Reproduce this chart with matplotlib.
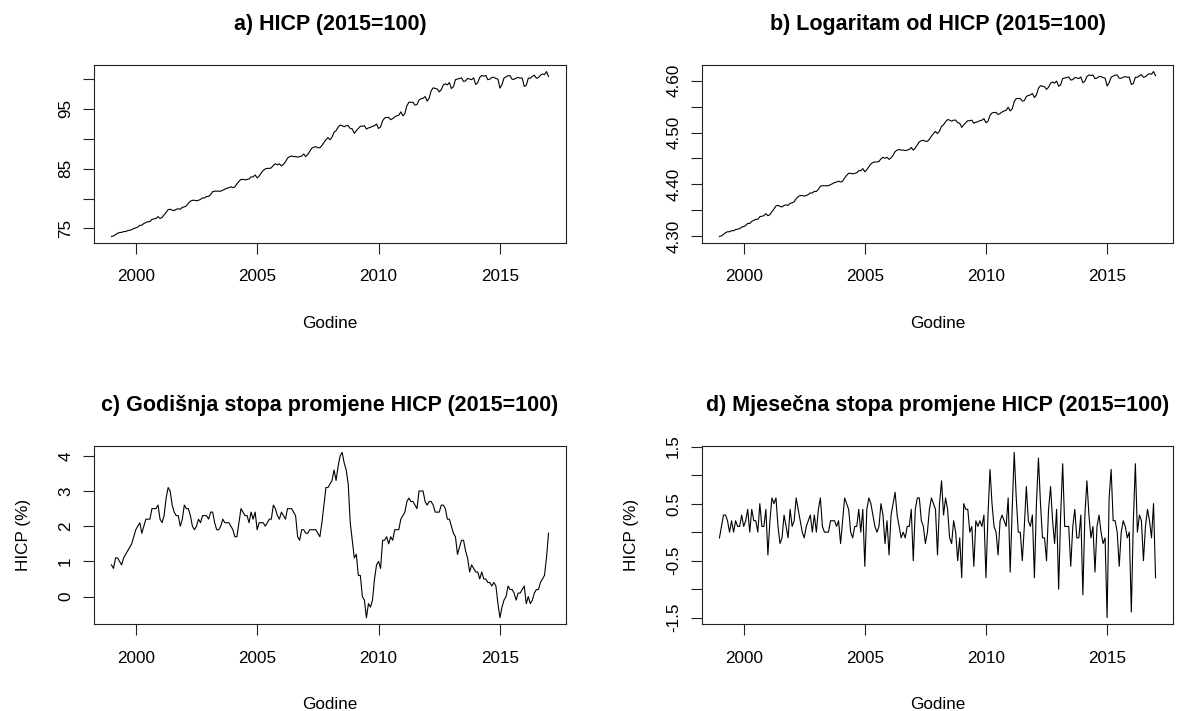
import numpy as np
import matplotlib
matplotlib.use('Agg')
import matplotlib.pyplot as plt

plt.rcParams['font.family'] = ['Liberation Sans', 'DejaVu Sans']

# Godišnja stopa promjene HICP (%), siječanj 1999 - siječanj 2017
godisnja = [
    0.9, 0.8, 1.1, 1.1, 1.0, 0.9, 1.1, 1.2, 1.3, 1.4, 1.5, 1.7,      # 1999
    1.9, 2.0, 2.1, 1.8, 2.0, 2.2, 2.2, 2.2, 2.5, 2.5, 2.5, 2.6,      # 2000
    2.2, 2.1, 2.3, 2.8, 3.1, 3.0, 2.6, 2.4, 2.3, 2.3, 2.0, 2.2,      # 2001
    2.6, 2.5, 2.5, 2.3, 2.0, 1.9, 2.0, 2.2, 2.1, 2.3, 2.3, 2.3,      # 2002
    2.2, 2.4, 2.4, 2.1, 1.9, 1.9, 2.0, 2.2, 2.1, 2.1, 2.1, 2.0,      # 2003
    1.9, 1.7, 1.7, 2.1, 2.5, 2.4, 2.3, 2.3, 2.1, 2.4, 2.2, 2.4,      # 2004
    1.9, 2.1, 2.1, 2.1, 2.0, 2.1, 2.2, 2.2, 2.6, 2.5, 2.3, 2.2,      # 2005
    2.4, 2.3, 2.2, 2.5, 2.5, 2.5, 2.4, 2.3, 1.7, 1.6, 1.9, 1.9,      # 2006
    1.8, 1.8, 1.9, 1.9, 1.9, 1.9, 1.8, 1.7, 2.1, 2.6, 3.1, 3.1,      # 2007
    3.2, 3.3, 3.6, 3.3, 3.7, 4.0, 4.1, 3.8, 3.6, 3.2, 2.1, 1.6,      # 2008
    1.1, 1.2, 0.6, 0.6, 0.0, -0.1, -0.6, -0.2, -0.3, -0.1, 0.5, 0.9, # 2009
    1.0, 0.8, 1.6, 1.6, 1.7, 1.5, 1.7, 1.6, 1.9, 1.9, 1.9, 2.2,      # 2010
    2.3, 2.4, 2.7, 2.8, 2.7, 2.7, 2.6, 2.5, 3.0, 3.0, 3.0, 2.7,      # 2011
    2.6, 2.7, 2.7, 2.6, 2.4, 2.4, 2.4, 2.6, 2.6, 2.5, 2.2, 2.2,      # 2012
    2.0, 1.8, 1.7, 1.2, 1.4, 1.6, 1.6, 1.3, 1.1, 0.7, 0.9, 0.8,      # 2013
    0.7, 0.7, 0.5, 0.7, 0.5, 0.5, 0.4, 0.4, 0.3, 0.4, 0.3, -0.2,     # 2014
    -0.6, -0.3, -0.1, 0.0, 0.3, 0.2, 0.2, 0.1, -0.1, 0.1, 0.1, 0.2,  # 2015
    0.3, -0.2, 0.0, -0.2, -0.1, 0.1, 0.2, 0.2, 0.4, 0.5, 0.6, 1.1,   # 2016
    1.8,                                                             # 2017
]

# Mjesečna stopa promjene HICP (%), siječanj 1999 - siječanj 2017
mjesecna = [
    -0.1, 0.1, 0.3, 0.3, 0.2, 0.0, 0.2, 0.0, 0.2, 0.1, 0.1, 0.3,     # 1999
    0.1, 0.2, 0.4, 0.0, 0.4, 0.2, 0.2, 0.0, 0.5, 0.1, 0.1, 0.4,      # 2000
    -0.4, 0.2, 0.6, 0.5, 0.6, 0.1, -0.2, -0.1, 0.3, 0.1, -0.1, 0.4,  # 2001
    0.1, 0.2, 0.6, 0.4, 0.2, 0.0, -0.1, 0.1, 0.2, 0.3, 0.0, 0.3,     # 2002
    0.0, 0.4, 0.6, 0.1, 0.0, 0.0, 0.0, 0.2, 0.2, 0.2, 0.1, 0.2,      # 2003
    -0.2, 0.2, 0.6, 0.5, 0.4, 0.0, -0.1, 0.1, 0.1, 0.4, 0.0, 0.4,    # 2004
    -0.6, 0.4, 0.6, 0.5, 0.3, 0.1, 0.0, 0.1, 0.5, 0.3, -0.2, 0.2,    # 2005
    -0.4, 0.3, 0.5, 0.7, 0.3, 0.1, -0.1, 0.0, -0.1, 0.1, 0.1, 0.4,   # 2006
    -0.5, 0.4, 0.6, 0.6, 0.2, 0.1, -0.2, 0.0, 0.4, 0.6, 0.5, 0.4,    # 2007
    -0.4, 0.5, 0.9, 0.3, 0.6, 0.4, -0.1, -0.2, 0.2, 0.0, -0.5, -0.1, # 2008
    -0.8, 0.5, 0.4, 0.4, 0.0, 0.1, -0.6, 0.2, 0.1, 0.2, 0.1, 0.3,    # 2009
    -0.8, 0.3, 1.1, 0.5, 0.1, 0.0, -0.4, 0.2, 0.3, 0.2, 0.1, 0.6,    # 2010
    -0.7, 0.4, 1.4, 0.6, 0.0, 0.0, -0.5, 0.1, 0.8, 0.2, 0.1, 0.3,    # 2011
    -0.8, 0.5, 1.3, 0.5, -0.1, -0.1, -0.5, 0.4, 0.8, 0.2, -0.2, 0.4, # 2012
    -1.0, 0.3, 1.2, 0.1, 0.1, 0.1, -0.6, 0.1, 0.4, -0.1, -0.1, 0.3,  # 2013
    -1.1, 0.3, 0.9, 0.3, -0.1, 0.1, -0.7, 0.1, 0.3, 0.0, -0.2, -0.1, # 2014
    -1.5, 0.6, 1.1, 0.2, 0.2, 0.0, -0.6, 0.0, 0.2, 0.1, -0.1, 0.0,   # 2015
    -1.4, 0.2, 1.2, 0.0, 0.3, 0.2, -0.5, 0.1, 0.4, 0.2, -0.1, 0.5,   # 2016
    -0.8,                                                            # 2017
]

# razina indeksa u prosincu 1998.
hicp_pocetak = 73.75

# indeks (2015=100) slozen iz mjesecnih stopa, pa logaritam
hicp = hicp_pocetak * np.cumprod(1 + np.array(mjesecna) / 100)
log_hicp = np.log(hicp)
godine = 1999 + np.arange(len(hicp)) / 12

W, H = 1180, 711
fig = plt.figure(figsize=(W / 100, H / 100), dpi=100)


def panel(rect, y, naslov, yticks, ylabels, ylabel=None):
    x0, y0, x1, y1 = rect
    ax = fig.add_axes([x0 / W, 1 - y1 / H, (x1 - x0) / W, (y1 - y0) / H])
    ax.plot(godine, y, color='black', lw=0.8)
    ax.margins(x=0.04, y=0.04)
    ax.set_xticks([2000, 2005, 2010, 2015])
    ax.set_yticks(yticks)
    ax.set_yticklabels(ylabels)
    ax.tick_params(direction='out', length=8, width=0.8, labelsize=12.3,
                   color='#222222')
    ax.tick_params(axis='x', pad=11)
    ax.tick_params(axis='y', pad=7)
    plt.setp(ax.get_yticklabels(), rotation=90, va='center')
    for s in ax.spines.values():
        s.set_linewidth(0.8)
        s.set_color('#222222')
    ax.set_title(naslov, fontsize=15.5, fontweight='bold', pad=25)
    ax.set_xlabel('Godine', fontsize=12.3, va='center')
    ax.xaxis.set_label_coords(0.5, -0.45)
    if ylabel:
        ax.set_ylabel(ylabel, fontsize=12.3, va='center')
        ax.yaxis.set_label_coords(-0.15, 0.5)
    return ax


panel((94, 65, 566, 243), hicp, 'a) HICP (2015=100)',
      [75, 80, 85, 90, 95, 100], ['75', '', '85', '', '95', ''])

panel((702, 65, 1173, 243), log_hicp, 'b) Logaritam od HICP (2015=100)',
      [4.30, 4.35, 4.40, 4.45, 4.50, 4.55, 4.60],
      ['4.30', '', '4.40', '', '4.50', '', '4.60'])

panel((94, 445.7, 566, 624.3), godisnja,
      'c) Godišnja stopa promjene HICP (2015=100)',
      [0, 1, 2, 3, 4], ['0', '1', '2', '3', '4'], ylabel='HICP (%)')

panel((702, 445.7, 1173, 624.3), mjesecna,
      'd) Mjesečna stopa promjene HICP (2015=100)',
      [-1.5, -1.0, -0.5, 0.0, 0.5, 1.0, 1.5],
      ['-1.5', '', '-0.5', '', '0.5', '', '1.5'], ylabel='HICP (%)')

fig.savefig('out.png', dpi=100)
